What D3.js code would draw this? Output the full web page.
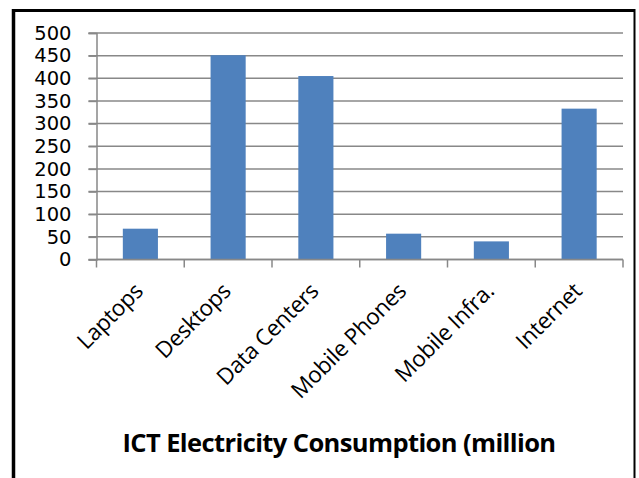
<!DOCTYPE html>
<html>
<head>
<meta charset="utf-8">
<script src="https://cdn.jsdelivr.net/npm/d3@7"></script>
<style>
  body { margin: 0; background: #fff; }
  svg { display: block; }
  .tick text { fill: #000; }
</style>
</head>
<body>
<div id="chart"></div>
<script>
const categories = ['Laptops', 'Desktops', 'Data Centers', 'Mobile Phones', 'Mobile Infra.', 'Internet'];
const values = [68, 451, 405, 57, 40, 333];
const yTicks = [0, 50, 100, 150, 200, 250, 300, 350, 400, 450, 500];
const title = 'ICT Electricity Consumption (million';

const W = 639;
const H = 478;
const margin = { top: 33, right: 16, bottom: 219, left: 96.5 };
const width = 623 - margin.left;
const height = 259.5 - margin.top;

const svg = d3.select('#chart')
    .append('svg')
    .attr('width', W)
    .attr('height', H);

// outer frame
svg.append('line').attr('x1', 13.5).attr('x2', 13.5).attr('y1', 9).attr('y2', H)
    .attr('stroke', '#000').attr('stroke-width', 3.5);
svg.append('line').attr('x1', 12).attr('x2', 635).attr('y1', 10.5).attr('y2', 10.5)
    .attr('stroke', '#000').attr('stroke-width', 3);
svg.append('line').attr('x1', 634.5).attr('x2', 634.5).attr('y1', 9).attr('y2', H)
    .attr('stroke', '#000').attr('stroke-width', 2);

const g = svg.append('g')
    .attr('transform', `translate(${margin.left},${margin.top})`);

const x = d3.scaleBand().domain(categories).range([0, width]).paddingInner(0.6).paddingOuter(0.3);
const xb = d3.scaleBand().domain(categories).range([0, width]);
const y = d3.scaleLinear().domain([0, 500]).range([height, 0]);

// gridlines
g.append('g')
    .selectAll('line')
    .data(yTicks)
    .enter()
    .append('line')
    .attr('x1', -8)
    .attr('x2', width)
    .attr('y1', d => y(d))
    .attr('y2', d => y(d))
    .attr('stroke', '#888')
    .attr('stroke-width', 1.5);

// y axis
const yAxis = g.append('g')
    .call(d3.axisLeft(y).tickValues(yTicks).tickSize(8).tickFormat(d3.format('d')));
yAxis.select('.domain').attr('stroke', '#888').attr('stroke-width', 1.5);
yAxis.selectAll('.tick line').attr('stroke', '#888').attr('stroke-width', 1.5);
yAxis.selectAll('.tick text')
    .attr('x', -25)
    .style('font-family', '"DejaVu Sans", sans-serif')
    .style('font-size', '19.5px');

// bars
g.selectAll('.bar')
    .data(values)
    .enter()
    .append('rect')
    .attr('class', 'bar')
    .attr('fill', '#4F81BD')
    .attr('x', (d, i) => x(categories[i]))
    .attr('width', x.bandwidth())
    .attr('y', d => y(d))
    .attr('height', d => height - y(d));

// x axis: ticks on band boundaries
const boundaries = categories.map(c => xb(c)).concat([width]);
const xAxis = g.append('g')
    .attr('transform', `translate(0,${height})`);
xAxis.append('line')
    .attr('x1', 0).attr('x2', width)
    .attr('stroke', '#888').attr('stroke-width', 1.5);
xAxis.selectAll('.xtick')
    .data(boundaries)
    .enter()
    .append('line')
    .attr('class', 'xtick')
    .attr('x1', d => d).attr('x2', d => d)
    .attr('y1', 0).attr('y2', 8)
    .attr('stroke', '#888').attr('stroke-width', 1.5);

xAxis.selectAll('.xlabel')
    .data(categories)
    .enter()
    .append('text')
    .attr('class', 'xlabel')
    .attr('text-anchor', 'end')
    .attr('transform', d => `translate(${xb(d) + xb.bandwidth() / 2 + 4},${33}) rotate(-45)`)
    .style('font-family', '"Open Sans", sans-serif')
    .style('font-size', '22.5px')
    .style('letter-spacing', '-0.3px')
    .text(d => d);

// title
svg.append('text')
    .attr('x', 339)
    .attr('y', 452)
    .attr('text-anchor', 'middle')
    .style('font-family', '"Open Sans", sans-serif')
    .style('font-weight', 'bold')
    .style('font-size', '25.5px')
    .style('letter-spacing', '-0.6px')
    .text(title);
</script>
</body>
</html>
